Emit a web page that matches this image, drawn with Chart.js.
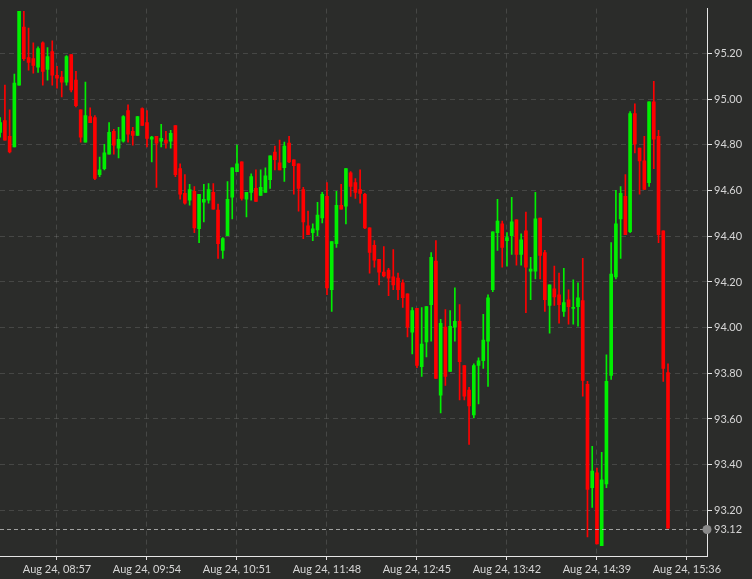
<!DOCTYPE html>
<html>
<head>
<meta charset="utf-8">
<title>Aug 24 intraday</title>
<script src="https://cdn.jsdelivr.net/npm/chart.js@4.4.0/dist/chart.umd.min.js"></script>
<style>
  html, body { margin: 0; padding: 0; background: #2b2c2a; }
  canvas { display: block; }
</style>
</head>
<body>
<canvas id="chart" width="752" height="579"></canvas>
<script>
// ----------------------------------------
// data: 3-minute candles, Aug 24
// ----------------------------------------
const FIRST_BAR = '08:21';
const BAR_MINUTES = 3;
const DAY_LABEL = 'Aug 24';

const OPEN = [
  94.855, 94.907, 94.838, 94.791, 95.062, 95.316, 95.183, 95.178, 95.140, 95.247,
  95.131, 95.209, 95.105, 95.097, 95.075, 95.196, 95.084, 94.954, 94.812, 94.924,
  94.920, 94.670, 94.696, 94.760, 94.860, 94.786, 94.816, 94.950, 94.860, 94.842,
  94.959, 94.898, 94.825, 94.838, 94.816, 94.821, 94.816, 94.885, 94.696, 94.588,
  94.558, 94.597, 94.433, 94.549, 94.558, 94.592, 94.515, 94.338, 94.403, 94.571,
  94.683, 94.726, 94.562, 94.592, 94.610, 94.579, 94.592, 94.648, 94.769, 94.722,
  94.700, 94.808, 94.735, 94.717, 94.605, 94.446, 94.416, 94.428, 94.480, 94.575,
  94.166, 94.368, 94.536, 94.532, 94.678, 94.635, 94.605, 94.584, 94.437, 94.360,
  94.299, 94.243, 94.252, 94.222, 94.217, 94.196, 94.148, 93.980, 94.084, 93.829,
  93.937, 94.101, 94.291, 93.704, 94.002, 93.808, 94.002, 94.028, 93.834, 93.726,
  93.618, 93.834, 93.855, 93.941, 94.166, 94.416, 94.454, 94.381, 94.403, 94.472,
  94.321, 94.424, 94.247, 94.247, 94.480, 94.329, 94.097, 94.170, 94.144, 94.071,
  94.122, 94.084, 94.092, 94.118, 93.752, 93.299, 93.364, 93.045, 93.316, 93.791,
  94.222, 94.476, 94.575, 94.420, 94.937, 94.786, 94.730, 94.635, 94.989, 94.838,
  94.424, 93.803
];
const HIGH = [
  94.920, 95.062, 94.954, 95.110, 95.385, 95.385, 95.312, 95.247, 95.230, 95.252,
  95.226, 95.256, 95.144, 95.122, 95.191, 95.196, 95.122, 94.954, 95.075, 94.963,
  94.928, 94.747, 94.803, 94.898, 94.868, 94.877, 94.928, 94.976, 94.877, 94.924,
  94.963, 94.950, 94.838, 94.838, 94.890, 94.860, 94.864, 94.885, 94.717, 94.670,
  94.627, 94.618, 94.584, 94.627, 94.631, 94.631, 94.541, 94.394, 94.640, 94.700,
  94.799, 94.726, 94.592, 94.674, 94.691, 94.691, 94.700, 94.752, 94.795, 94.821,
  94.812, 94.838, 94.735, 94.717, 94.614, 94.510, 94.454, 94.549, 94.592, 94.635,
  94.377, 94.597, 94.627, 94.696, 94.683, 94.653, 94.691, 94.588, 94.437, 94.381,
  94.299, 94.355, 94.260, 94.342, 94.239, 94.209, 94.148, 94.088, 94.084, 94.088,
  94.092, 94.329, 94.381, 94.036, 94.079, 94.075, 94.174, 94.101, 93.834, 93.739,
  93.842, 93.868, 94.058, 94.144, 94.420, 94.562, 94.467, 94.416, 94.571, 94.472,
  94.411, 94.506, 94.308, 94.592, 94.480, 94.338, 94.187, 94.269, 94.239, 94.260,
  94.166, 94.209, 94.196, 94.303, 93.765, 93.480, 93.385, 93.454, 93.881, 94.372,
  94.601, 94.618, 94.670, 94.946, 94.980, 94.786, 94.838, 94.989, 95.079, 94.864,
  94.424, 93.842
];
const LOW = [
  94.834, 94.821, 94.765, 94.791, 95.062, 95.170, 95.127, 95.114, 95.118, 95.062,
  95.084, 95.062, 95.049, 95.010, 95.062, 95.032, 94.967, 94.812, 94.812, 94.898,
  94.648, 94.661, 94.691, 94.760, 94.760, 94.743, 94.812, 94.812, 94.799, 94.842,
  94.885, 94.791, 94.726, 94.614, 94.791, 94.786, 94.786, 94.661, 94.562, 94.541,
  94.536, 94.416, 94.372, 94.463, 94.545, 94.519, 94.303, 94.303, 94.403, 94.476,
  94.683, 94.558, 94.485, 94.558, 94.553, 94.579, 94.592, 94.610, 94.691, 94.691,
  94.640, 94.722, 94.584, 94.510, 94.390, 94.407, 94.381, 94.403, 94.459, 94.144,
  94.071, 94.351, 94.519, 94.454, 94.575, 94.566, 94.545, 94.433, 94.239, 94.265,
  94.187, 94.222, 94.140, 94.166, 94.122, 94.088, 93.959, 93.885, 93.825, 93.786,
  93.872, 93.941, 93.778, 93.627, 93.747, 93.808, 93.941, 93.683, 93.683, 93.489,
  93.605, 93.666, 93.821, 93.743, 94.157, 94.338, 94.265, 94.269, 94.321, 94.273,
  94.273, 94.066, 94.122, 94.213, 94.213, 94.071, 93.976, 94.097, 94.019, 94.049,
  94.015, 94.015, 94.006, 93.700, 93.084, 93.213, 93.053, 93.045, 93.299, 93.773,
  94.213, 94.303, 94.407, 94.416, 94.765, 94.584, 94.605, 94.618, 94.696, 94.372,
  93.765, 93.122
];
const CLOSE = [
  94.898, 94.821, 94.769, 95.071, 95.385, 95.178, 95.161, 95.148, 95.222, 95.122,
  95.187, 95.105, 95.092, 95.075, 95.187, 95.041, 94.972, 94.834, 94.928, 94.898,
  94.653, 94.691, 94.765, 94.855, 94.799, 94.825, 94.924, 94.847, 94.842, 94.924,
  94.885, 94.829, 94.834, 94.808, 94.829, 94.808, 94.851, 94.670, 94.584, 94.545,
  94.605, 94.437, 94.584, 94.562, 94.605, 94.519, 94.368, 94.390, 94.562, 94.700,
  94.717, 94.566, 94.592, 94.661, 94.553, 94.614, 94.665, 94.752, 94.735, 94.691,
  94.795, 94.726, 94.709, 94.610, 94.463, 94.407, 94.433, 94.493, 94.584, 94.174,
  94.377, 94.536, 94.519, 94.696, 94.618, 94.592, 94.588, 94.437, 94.329, 94.295,
  94.243, 94.226, 94.217, 94.187, 94.166, 94.131, 94.002, 94.075, 93.834, 93.928,
  94.092, 94.308, 93.778, 94.019, 93.786, 94.006, 94.028, 93.851, 93.700, 93.657,
  93.834, 93.855, 93.946, 94.131, 94.420, 94.467, 94.351, 94.394, 94.463, 94.321,
  94.385, 94.265, 94.256, 94.476, 94.316, 94.122, 94.187, 94.135, 94.101, 94.110,
  94.092, 94.088, 94.131, 93.769, 93.291, 93.372, 93.053, 93.334, 93.765, 94.235,
  94.454, 94.588, 94.407, 94.937, 94.803, 94.730, 94.605, 94.989, 94.825, 94.407,
  93.821, 93.122
];

const X_TICKS = ['08:57', '09:54', '10:51', '11:48', '12:45', '13:42', '14:39', '15:36'];
const Y_TICKS = [93.2, 93.4, 93.6, 93.8, 94.0, 94.2, 94.4, 94.6, 94.8, 95.0, 95.2];
const LAST_PRICE = 93.12;

// ----------------------------------------
// helpers + colours
// ----------------------------------------
const BG = '#2b2c2a';
const UP = '#00f000';
const DOWN = '#ff0000';
const GRID = 'rgba(255,255,255,0.13)';
const AXIS = '#e6e6e6';
const TEXT = '#d6d6d6';
const FONT = { family: 'Lato, "Open Sans", sans-serif', size: 11 };

const toMin = s => { const [h, m] = s.split(':').map(Number); return h * 60 + m; };
const pad2 = n => String(n).padStart(2, '0');
const fmtTime = m => pad2(Math.floor(m / 60)) + ':' + pad2(m % 60);

const TIMES = OPEN.map((_, i) => toMin(FIRST_BAR) + i * BAR_MINUTES);

const isUp = i => CLOSE[i] >= OPEN[i];
const barColor = ctx => isUp(ctx.dataIndex) ? UP : DOWN;

// fondo oscuro
const background = {
  id: 'background',
  beforeDraw(chart) {
    const c = chart.ctx;
    c.save();
    c.fillStyle = BG;
    c.fillRect(0, 0, chart.width, chart.height);
    c.restore();
  }
};

// línea de último precio + punto + etiqueta
const lastPrice = {
  id: 'lastPrice',
  afterDatasetsDraw(chart) {
    const { ctx: c, chartArea: a, scales } = chart;
    const y = Math.round(scales.y.getPixelForValue(LAST_PRICE)) + 0.5;
    c.save();
    c.strokeStyle = 'rgba(200,200,200,0.75)';
    c.lineWidth = 1;
    c.setLineDash([4, 3]);
    c.beginPath();
    c.moveTo(a.left, y);
    c.lineTo(a.right, y);
    c.stroke();
    c.setLineDash([]);
    c.fillStyle = '#8a8a8a';
    c.beginPath();
    c.arc(a.right, y, 4.5, 0, Math.PI * 2);
    c.fill();
    c.fillStyle = TEXT;
    c.font = FONT.size + 'px ' + FONT.family;
    c.textBaseline = 'middle';
    c.textAlign = 'left';
    c.fillText(LAST_PRICE.toFixed(2), a.right + 7, y);
    c.restore();
  }
};

// ----------------------------------------
// chart
// ----------------------------------------
const ctx = document.getElementById('chart').getContext('2d');
const chart = new Chart(ctx, {
  type: 'bar',
  data: {
    datasets: [
      {
        label: 'wick',
        data: TIMES.map((t, i) => ({ x: t, y: [LOW[i], HIGH[i]] })),
        backgroundColor: barColor,
        barThickness: 1,
        minBarLength: 1,
        grouped: false,
        order: 2
      },
      {
        label: 'body',
        data: TIMES.map((t, i) => ({ x: t, y: [OPEN[i], CLOSE[i]] })),
        backgroundColor: barColor,
        barThickness: 3,
        minBarLength: 1,
        grouped: false,
        order: 1
      }
    ]
  },
  options: {
    responsive: false,
    devicePixelRatio: 1,
    animation: false,
    layout: { padding: 0 },
    scales: {
      x: {
        type: 'linear',
        offset: false,
        min: 500.9,
        max: 948.7,
        afterBuildTicks: s => { s.ticks = X_TICKS.map(t => ({ value: toMin(t) })); },
        afterFit: s => { s.height = 23; },
        grid: { offset: false, color: GRID, lineWidth: 1, tickColor: AXIS, tickLength: 4, tickWidth: 1 },
        border: { color: AXIS, width: 1, dash: [5, 4] },
        ticks: {
          color: TEXT,
          font: FONT,
          padding: 3,
          maxRotation: 0,
          autoSkip: false,
          callback: v => DAY_LABEL + ', ' + fmtTime(v)
        }
      },
      y: {
        position: 'right',
        min: 93.0,
        max: 95.397,
        afterBuildTicks: s => { s.ticks = Y_TICKS.map(v => ({ value: v })); },
        afterFit: s => { s.width = 45; },
        grid: { color: GRID, lineWidth: 1, tickColor: AXIS, tickLength: 5, tickWidth: 1 },
        border: { color: AXIS, width: 1, dash: [5, 4] },
        ticks: {
          color: TEXT,
          font: FONT,
          padding: 2,
          callback: v => Number(v).toFixed(2)
        }
      }
    },
    plugins: {
      legend: { display: false },
      tooltip: { enabled: false }
    }
  },
  plugins: [background, lastPrice]
});
</script>
</body>
</html>
